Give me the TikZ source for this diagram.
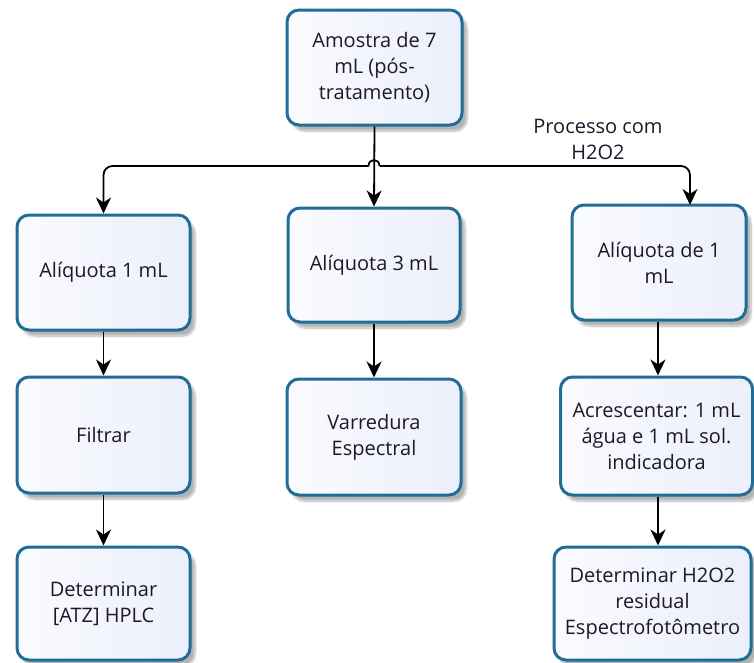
\documentclass[tikz,border=0pt]{standalone}
\usepackage{fontspec}
\setmainfont{Open Sans}
\usetikzlibrary{arrows.meta,shadows.blur}
\definecolor{boxborder}{RGB}{32,110,150}
\definecolor{boxfill}{RGB}{236,239,252}
\definecolor{txt}{RGB}{30,24,40}
\tikzset{
  procbox/.style={draw=boxborder, line width=3pt, rounded corners=12pt,
    left color=white!75!boxfill, right color=boxfill,
    blur shadow={shadow xshift=5pt, shadow yshift=-6pt, shadow blur steps=8, shadow opacity=30},
    inner sep=0pt, align=center, text=txt,
    font=\fontsize{20}{26}\selectfont},
  conn/.style={draw=black, line width=1.8pt},
  arr/.style={conn, -{Stealth[length=16pt,width=15pt,inset=5pt]}},
  lbl/.style={align=center, text=txt, font=\fontsize{20}{26}\selectfont}
}
\begin{document}
\begin{tikzpicture}[x=1pt,y=-1pt]
\useasboundingbox (0,0) rectangle (754,662);
\node[procbox, minimum width=175pt, minimum height=115pt] (T) at (374.5,67.5) {Amostra de 7\\mL (pós-\\tratamento)};
\node[procbox, minimum width=173pt, minimum height=115pt] (A2) at (103.5,272.5) {Alíquota 1 mL};
\node[procbox, minimum width=172pt, minimum height=114pt] (B2) at (374,265) {Alíquota 3 mL};
\node[procbox, minimum width=174pt, minimum height=115pt] (C2) at (659,262.5) {Alíquota de 1\\mL};
\node[procbox, minimum width=173pt, minimum height=116pt] (A3) at (103.5,435) {Filtrar};
\node[procbox, minimum width=174pt, minimum height=116pt] (B3) at (374,437) {Varredura\\Espectral};
\node[procbox, minimum width=192pt, minimum height=118pt] (C3) at (656.5,436) {Acrescentar: 1 mL\\água e 1 mL sol.\\indicadora};
\node[procbox, minimum width=173pt, minimum height=113pt] (A4) at (103.5,603.5) {Determinar\\{[ATZ]} HPLC};
\node[procbox, minimum width=197pt, minimum height=113pt] (C4) at (652.5,603.5) {Determinar H2O2\\residual\\Espectrofotômetro};
\node[lbl] (L) at (598,139) {Processo com\\H2O2};
% connectors
\coordinate (hopL) at (368.5,166);
\coordinate (hopR) at (379.5,166);
\coordinate (cIn) at (690,205);
\draw[arr] (T.south) -- (B2.north);
\draw[conn] (hopL) .. controls (368.5,158) and (379.5,158) .. (hopR);
\draw[arr, rounded corners=9pt] (hopL) -| (A2.north);
\draw[arr, rounded corners=9pt] (hopR) -| (cIn);
\draw[arr] (A2.south) -- (A3.north);
\draw[arr] (A3.south) -- (A4.north);
\draw[arr] (B2.south) -- (B3.north);
\draw[arr] (C2.south -| 658,0) -- (C3.north -| 658,0);
\draw[arr] (C3.south -| 658,0) -- (C4.north -| 658,0);
\end{tikzpicture}
\end{document}
